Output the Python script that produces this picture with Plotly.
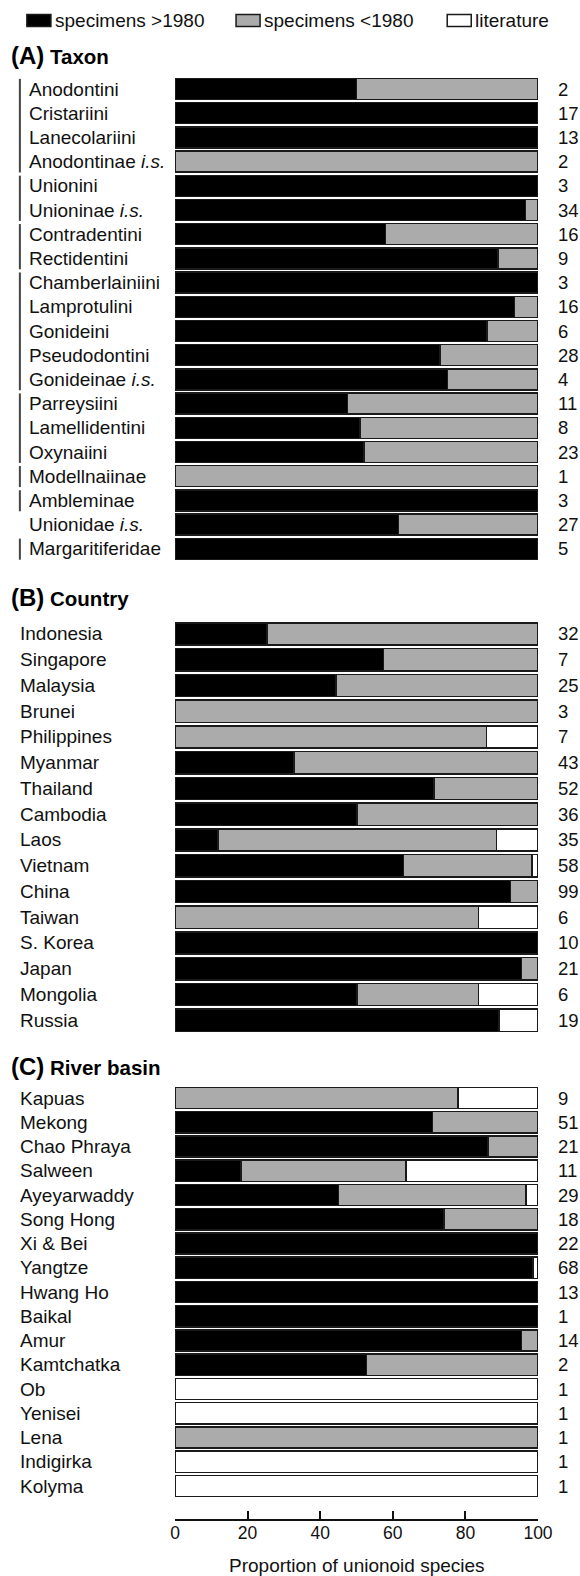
import plotly.graph_objects as go

# ---------------- data ----------------
taxon_names = ["Anodontini", "Cristariini", "Lanecolariini", "Anodontinae <i>i.s.</i>",
               "Unionini", "Unioninae <i>i.s.</i>", "Contradentini", "Rectidentini",
               "Chamberlainiini", "Lamprotulini", "Gonideini", "Pseudodontini",
               "Gonideinae <i>i.s.</i>", "Parreysiini", "Lamellidentini", "Oxynaiini",
               "Modellnaiinae", "Ambleminae", "Unionidae <i>i.s.</i>", "Margaritiferidae"]
taxon_new = [50, 100, 100, 0, 100, 96.5, 58, 89, 100, 93.5, 86, 73, 75, 47.5, 51, 52, 0, 100, 61.5, 100]
taxon_old = [50, 0, 0, 100, 0, 3.5, 42, 11, 0, 6.5, 14, 27, 25, 52.5, 49, 48, 100, 0, 38.5, 0]
taxon_lit = [0] * 20
taxon_n = [2, 17, 13, 2, 3, 34, 16, 9, 3, 16, 6, 28, 4, 11, 8, 23, 1, 3, 27, 5]
# bracket groups (first row, last row)
taxon_groups = [(0, 3), (4, 5), (6, 7), (8, 12), (13, 15), (16, 16), (17, 17), (19, 19)]

country_names = ["Indonesia", "Singapore", "Malaysia", "Brunei", "Philippines", "Myanmar",
                 "Thailand", "Cambodia", "Laos", "Vietnam", "China", "Taiwan", "S. Korea",
                 "Japan", "Mongolia", "Russia"]
country_new = [25.3, 57.4, 44.4, 0, 0, 32.8, 71.4, 50.2, 11.8, 62.9, 92.4, 0, 100, 95.5, 50.2, 89.2]
country_old = [74.7, 42.6, 55.6, 100, 85.8, 67.2, 28.6, 49.8, 76.8, 35.4, 7.6, 83.6, 0, 4.5, 33.4, 0]
country_lit = [0, 0, 0, 0, 14.2, 0, 0, 0, 11.4, 1.7, 0, 16.4, 0, 0, 16.4, 10.8]
country_n = [32, 7, 25, 3, 7, 43, 52, 36, 35, 58, 99, 6, 10, 21, 6, 19]

basin_names = ["Kapuas", "Mekong", "Chao Phraya", "Salween", "Ayeyarwaddy", "Song Hong",
               "Xi &amp; Bei", "Yangtze", "Hwang Ho", "Baikal", "Amur", "Kamtchatka", "Ob",
               "Yenisei", "Lena", "Indigirka", "Kolyma"]
basin_new = [0, 70.9, 86.2, 18.2, 45.1, 74.1, 100, 98.6, 100, 100, 95.5, 52.7, 0, 0, 0, 0, 0]
basin_old = [78, 29.1, 13.8, 45.4, 51.6, 25.9, 0, 0, 0, 0, 4.5, 47.3, 0, 0, 100, 0, 0]
basin_lit = [22, 0, 0, 36.4, 3.3, 0, 0, 1.4, 0, 0, 0, 0, 100, 100, 0, 100, 100]
basin_n = [9, 51, 21, 11, 29, 18, 22, 68, 13, 1, 14, 2, 1, 1, 1, 1, 1]

x_ticks = [0, 20, 40, 60, 80, 100]
legend_labels = ["specimens &gt;1980", "specimens &lt;1980", "literature"]
panel_titles = [("(A)", "Taxon"), ("(B)", "Country"), ("(C)", "River basin")]
x_title = "Proportion of unionoid species"

# ---------------- layout geometry (pixels) ----------------
W, H = 580, 1576
X0, X1 = 175, 537.7          # pixel position of 0 and 100
PLOT_BOTTOM = 1520
FONT = "Liberation Sans, Arial, Helvetica, sans-serif"
COLORS = ["#000000", "#ababab", "#ffffff"]
EDGE = "#1a1a1a"
TXT = "#111111"


def px2x(px):
    return (px - X0) / (X1 - X0)


def px2y(py):
    return (PLOT_BOTTOM - py) / PLOT_BOTTOM


panels = [
    dict(names=taxon_names, vals=[taxon_new, taxon_old, taxon_lit], n=taxon_n,
         first=89, step=24.2, header=55, label_x=27, axis="y"),
    dict(names=country_names, vals=[country_new, country_old, country_lit], n=country_n,
         first=634, step=25.75, header=597, label_x=18, axis="y2"),
    dict(names=basin_names, vals=[basin_new, basin_old, basin_lit], n=basin_n,
         first=1098, step=24.25, header=1066, label_x=18, axis="y3"),
]

fig = go.Figure()
annotations = []
shapes = []
layout_axes = {}

for p_i, p in enumerate(panels):
    nrows = len(p["names"])
    rows = list(range(nrows))
    top = p["first"] - p["step"] / 2
    bot = p["first"] + (nrows - 1) * p["step"] + p["step"] / 2
    axname = "yaxis" if p["axis"] == "y" else "yaxis" + p["axis"][1:]
    layout_axes[axname] = dict(domain=[px2y(bot), px2y(top)], range=[nrows - 0.5, -0.5],
                               showticklabels=False, showgrid=False, zeroline=False,
                               showline=False, ticks="", fixedrange=True)
    for s_i, vals in enumerate(p["vals"]):
        fig.add_trace(go.Bar(
            x=vals, y=rows, orientation="h", xaxis="x", yaxis=p["axis"],
            marker=dict(color=COLORS[s_i], line=dict(color=EDGE, width=1.5)),
            width=0.87, showlegend=False, hoverinfo="skip"))
    for i, name in enumerate(p["names"]):
        annotations.append(dict(x=px2x(p["label_x"]), xref="paper", y=i, yref=p["axis"],
                                text=name, showarrow=False, xanchor="left", yanchor="middle",
                                font=dict(size=19, color=TXT, family=FONT)))
        annotations.append(dict(x=px2x(556), xref="paper", y=i, yref=p["axis"],
                                text=str(p["n"][i]), showarrow=False, xanchor="left",
                                yanchor="middle",
                                font=dict(size=18.5, color=TXT, family=FONT)))
    letter, word = panel_titles[p_i]
    annotations.append(dict(x=px2x(9), xref="paper", y=px2y(p["header"]), yref="paper",
                            text=f"<b><span style='font-size:24px'>{letter}</span> {word}</b>",
                            showarrow=False, xanchor="left", yanchor="middle",
                            font=dict(size=20.5, color="#000000", family=FONT)))

# taxon group brackets
for g0, g1 in taxon_groups:
    shapes.append(dict(type="line", xref="paper", yref="y", x0=px2x(20), x1=px2x(20),
                       y0=g0 - 0.42, y1=g1 + 0.45, line=dict(color="#444444", width=2)))

# custom legend
leg_box_x = [27, 236, 447]
leg_text_x = [53, 262, 473]
for k in range(3):
    shapes.append(dict(type="rect", xref="paper", yref="paper",
                       x0=px2x(leg_box_x[k]), x1=px2x(leg_box_x[k] + 24),
                       y0=px2y(26.5), y1=px2y(14.5),
                       fillcolor=COLORS[k], line=dict(color=EDGE, width=1.5)))
    annotations.append(dict(x=px2x(leg_text_x[k]), xref="paper", y=px2y(20.5), yref="paper",
                            text=legend_labels[k], showarrow=False, xanchor="left",
                            yanchor="middle",
                            font=dict(size=19, color=TXT, family=FONT)))

# x-axis title
annotations.append(dict(x=50, xref="x", y=px2y(1565), yref="paper", text=x_title,
                        showarrow=False, xanchor="center", yanchor="middle",
                        font=dict(size=19, color=TXT, family=FONT)))

fig.update_layout(
    width=W, height=H,
    margin=dict(l=X0, r=W - X1, t=0, b=H - PLOT_BOTTOM, pad=0),
    paper_bgcolor="white", plot_bgcolor="white",
    barmode="stack", showlegend=False,
    font=dict(family=FONT, size=18, color=TXT),
    xaxis=dict(range=[0, 100], anchor="free", position=0, showline=True,
               linecolor=TXT, linewidth=1.5, ticks="inside", ticklen=8,
               tickwidth=1.5, tickcolor=TXT, tickvals=x_ticks,
               tickfont=dict(size=17.5, family=FONT, color=TXT),
               showgrid=False, zeroline=False, ticklabelstandoff=-3, fixedrange=True),
    annotations=annotations, shapes=shapes,
    **layout_axes,
)

fig.write_html("out.html", config={"displayModeBar": False},
               post_script="document.body.style.margin='0';"
                           "document.body.style.overflow='hidden';")
